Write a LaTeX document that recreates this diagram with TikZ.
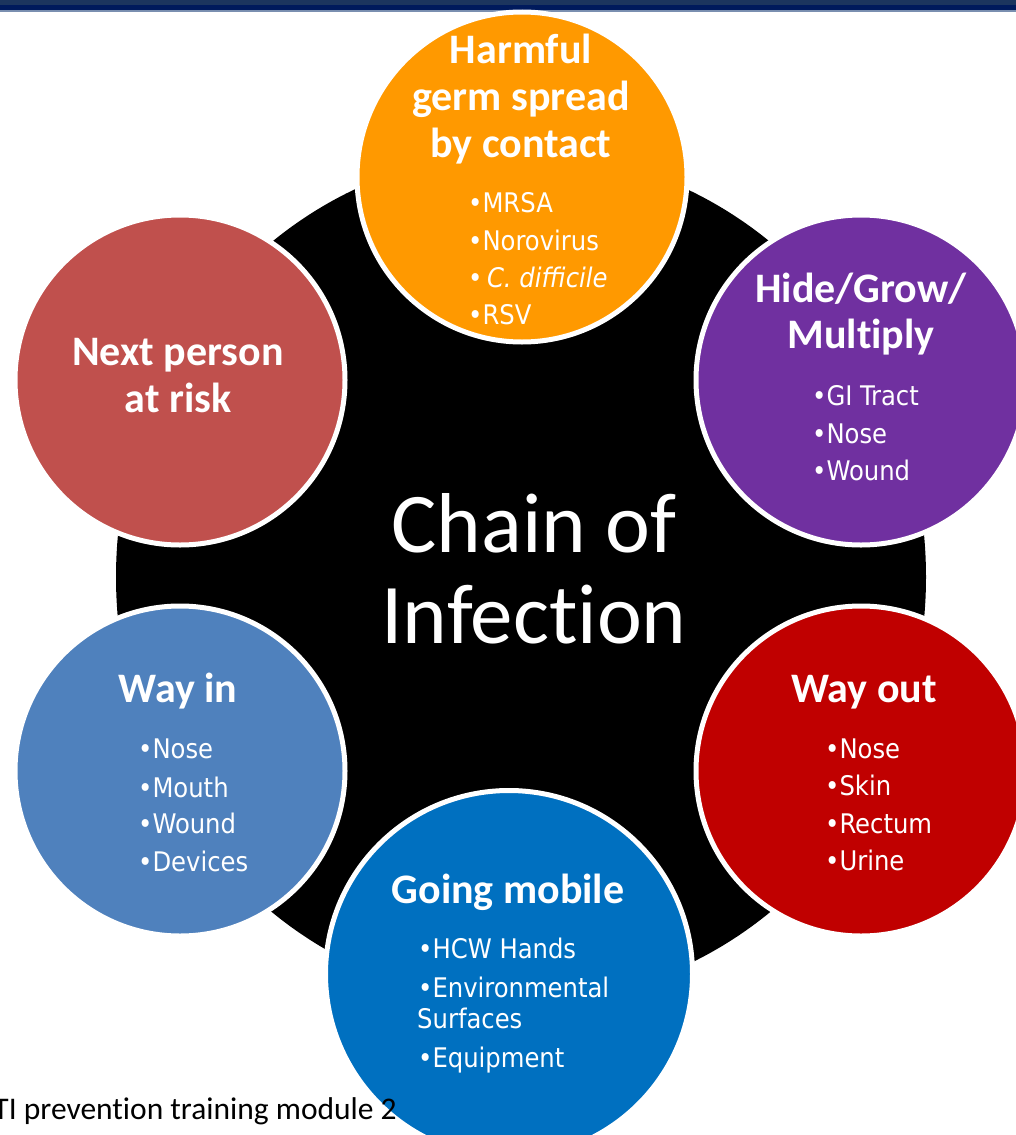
\documentclass[tikz,border=0pt]{standalone}
\usepackage{fontspec}
\setmainfont{Carlito}[RawFeature={-liga}]
\newfontfamily\bulletfont{DejaVu Sans Condensed}
\usetikzlibrary{shapes.geometric}
\definecolor{cOrange}{HTML}{FF9900}
\definecolor{cNext}{HTML}{C0504D}
\definecolor{cPurple}{HTML}{7030A0}
\definecolor{cWayIn}{HTML}{4F81BD}
\definecolor{cWayOut}{HTML}{C00000}
\definecolor{cMobile}{HTML}{0070C0}
\definecolor{barTop}{HTML}{1C355E}
\definecolor{barBot}{HTML}{001A5C}
\definecolor{barLine}{HTML}{7A8FB0}
\begin{document}
\begin{tikzpicture}[x=1pt,y=-1pt,
  bubble/.style={circle, draw=white, line width=5pt, inner sep=0pt},
  head/.style={text=white, font=\fontsize{42}{42}\selectfont\bfseries, anchor=base, inner sep=0pt},
  item/.style={text=white, font=\bulletfont\fontsize{27}{27}\selectfont, anchor=base west, inner sep=0pt},
  bigtext/.style={text=white, font=\fontsize{85}{85}\selectfont, anchor=base, inner sep=0pt},
  foot/.style={text=black, font=\fontsize{31.5}{31.5}\selectfont, anchor=base east, inner sep=0pt}
]
\useasboundingbox (0,0) rectangle (1016,1135);
\fill[white] (0,0) rectangle (1016,1135);
% top bar
\fill[barTop] (0,0) rectangle (1016,5);
\fill[barBot] (0,5) rectangle (1016,10);
\fill[barLine] (0,10) rectangle (1016,11.5);
% hub
\node[ellipse, fill=black, minimum width=810pt, minimum height=850pt, inner sep=0pt] (hub) at (521,577) {};
% bubbles
\node[bubble, fill=cOrange, minimum size=330pt] (harm) at (522,177) {};
\node[bubble, fill=cNext, minimum size=330pt] (next) at (180,380) {};
\node[bubble, fill=cPurple, minimum size=330pt] (hide) at (861,380) {};
\node[bubble, fill=cWayIn, minimum size=330pt] (wayin) at (180,771) {};
\node[bubble, fill=cWayOut, minimum size=330pt] (wayout) at (861,771) {};
\node[bubble, fill=cMobile, minimum size=367pt] (mobile) at (509,974) {};
% centre text
\node[bigtext] (c1) at (534,552) {Chain of};
\node[bigtext] (c2) at (534,643) {Infection};
% harmful
\node[head] (h1) at (521,63) {Harmful};
\node[head] (h2) at (521,110) {germ spread};
\node[head] (h3) at (521,157) {by contact};
\node[item] (h4) at (468,212) {•MRSA};
\node[item] (h5) at (468,250) {•Norovirus};
\node[item] (h6) at (468,287) {•\,\textit{C. difficile}};
\node[item] (h7) at (468,324) {•RSV};
% next person
\node[head] (n1) at (178,365) {Next person};
\node[head] (n2) at (178,412) {at risk};
% hide grow
\node[head] (g1) at (861,302) {Hide/Grow/};
\node[head] (g2) at (861,348) {Multiply};
\node[item] (g3) at (812,405) {•GI Tract};
\node[item] (g4) at (812,443) {•Nose};
\node[item] (g5) at (812,480) {•Wound};
% way in
\node[head] (i1) at (178,702) {Way in};
\node[item] (i2) at (138,758) {•Nose};
\node[item] (i3) at (138,797) {•Mouth};
\node[item] (i4) at (138,833) {•Wound};
\node[item] (i5) at (138,871) {•Devices};
% way out
\node[head] (o1) at (864,702) {Way out};
\node[item] (o2) at (825,758) {•Nose};
\node[item] (o3) at (825,795) {•Skin};
\node[item] (o4) at (825,833) {•Rectum};
\node[item] (o5) at (825,870) {•Urine};
% going mobile
\node[head] (m1) at (508,903) {Going mobile};
\node[item] (m2) at (418,958) {•HCW Hands};
\node[item] (m3) at (418,997) {•Environmental};
\node[item] (m4) at (417,1028) {Surfaces};
\node[item] (m5) at (418,1067) {•Equipment};
% footer
\node[foot] (foot) at (397,1119) {TI prevention training module 2};
\end{tikzpicture}
\end{document}
